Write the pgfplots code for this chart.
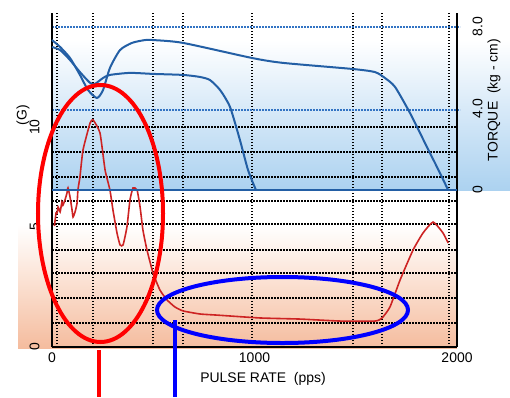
\documentclass[border=0pt]{standalone}
\usepackage{pgfplots}
\pgfplotsset{compat=1.18}
\usepackage{fontspec}
\setmainfont{Liberation Sans}
\definecolor{tblue}{RGB}{35,95,165}
\definecolor{vred}{RGB}{205,35,35}
\definecolor{bgblue}{RGB}{172,210,240}
\definecolor{bgbluemid}{RGB}{215,233,248}
\definecolor{bgorange}{RGB}{245,188,158}
\definecolor{bgorangemid}{RGB}{251,226,212}
\definecolor{gblue}{RGB}{50,115,195}
\begin{document}
\begin{tikzpicture}[x=1bp,y=1bp]
\useasboundingbox (0,0) rectangle (510,397);
% background bands
\fill[top color=white, bottom color=bgbluemid] (52,357) rectangle (510,287);
\fill[top color=bgbluemid, bottom color=bgblue] (52,287) rectangle (510,207);
\fill[top color=white, bottom color=bgorangemid] (18,172) rectangle (457,117);
\fill[top color=bgorangemid, bottom color=bgorange] (18,117) rectangle (457,49);
% grid
\foreach \px in {57,93,153,183,252,353,382,449}
  \draw[black, line width=1.3bp, dash pattern=on 1.5bp off 1.5bp] (\px,50) -- (\px,384);
\foreach \py in {127,152,177,201,224,250,273,298,323}
  \draw[black, line width=1.3bp, dash pattern=on 1.5bp off 1.5bp] (52,397-\py) -- (457,397-\py);
\foreach \py in {27,110}
  \draw[gblue, line width=1.3bp, dash pattern=on 1.5bp off 1.5bp] (52,397-\py) -- (460,397-\py);

% vibration axis (G)
\begin{axis}[at={(52bp,50bp)}, anchor=south west, scale only axis,
  width=405bp, height=334bp, xmin=0, xmax=2000, ymin=0, ymax=15.1818,
  axis x line*=bottom, axis y line*=left,
  axis line style={line width=1.3bp, -},
  xtick={0,1000,2000}, xticklabels={0,1000,2000},
  ytick={0,5.45,10}, yticklabels={0,5,10},
  tick style={draw=none},
  ticklabel style={font=\fontsize{14}{16}\selectfont},
  yticklabel style={xshift=-9bp, rotate=90, anchor=south},
  xticklabel style={yshift=-2bp},
  clip=false]
\addplot[vred, line width=1.6bp, smooth, tension=0.3] coordinates {
(12,5.5) (20,6.1) (25,6.09) (30,6.36) (40,6.14) (49,6.59) (54,6.45) (64,6.68)
(74,7.0) (79,7.23) (89,6.82) (99,6.23) (104,5.91) (114,6.14) (124,6.55)
(128,7.14) (138,7.73) (153,8.95) (188,10.18) (203,10.32) (237,9.73)
(262,8.05) (286,7.14) (301,6.23) (321,5.18) (336,4.64) (351,4.64)
(370,5.45) (385,6.68) (400,7.23) (420,7.14) (435,6.36) (449,5.32)
(469,4.41) (499,3.36) (533,2.59) (568,2.14) (607,1.82) (647,1.64)
(731,1.5) (815,1.45) (1027,1.32) (1225,1.27) (1422,1.18) (1595,1.18)
(1630,1.32) (1669,1.82) (1719,3.05) (1783,4.41) (1832,5.18) (1882,5.68)
(1931,5.18) (1956,4.73)};
\end{axis}

% torque axis
\begin{axis}[at={(52bp,50bp)}, anchor=south west, scale only axis,
  width=405bp, height=334bp, xmin=0, xmax=2000, ymin=-7.696, ymax=8.676,
  axis x line=none, axis y line*=right,
  axis line style={line width=1.3bp, -},
  ytick={0,4,8}, yticklabels={0,4.0,8.0},
  tick style={draw=none},
  ticklabel style={font=\fontsize{14}{16}\selectfont},
  yticklabel style={xshift=12bp, rotate=90, anchor=north},
  clip=false]
\addplot[tblue, line width=2bp] coordinates {(0,0) (2000,0)};
\addplot[tblue, line width=2bp, smooth, tension=0.4] coordinates {
(0,7.35) (40,7.01) (89,6.47) (138,5.64) (178,4.90) (222,4.51) (252,4.90)
(286,5.98) (336,6.86) (395,7.21) (459,7.35) (499,7.35) (647,7.21)
(988,6.47) (1141,6.23) (1486,5.93) (1595,5.78) (1644,5.49) (1694,5.05)
(1768,3.77) (1842,2.30) (1916,0.83) (1956,0)};
\addplot[tblue, line width=2bp, smooth, tension=0.4] coordinates {
(0,7.01) (40,6.86) (89,6.37) (138,5.78) (188,5.25) (212,5.20) (252,5.49)
(286,5.64) (385,5.74) (499,5.69) (647,5.64) (731,5.54) (780,5.39)
(830,4.90) (879,4.07) (928,2.45) (968,0.98) (1007,0)};
\end{axis}

% labels
\node[rotate=90, font=\fontsize{14}{16}\selectfont] at (23,282) {(G)};
\node[rotate=90, font=\fontsize{14}{16}\selectfont] at (494,297) {TORQUE\ \ (kg - cm)};
\node[font=\fontsize{14}{16}\selectfont] at (263,18) {PULSE RATE\ \ (pps)};

% annotations
\draw[red, line width=4bp] (100.5,183.5) ellipse [x radius=62.5bp, y radius=128.5bp];
\draw[blue, line width=4bp] (282.5,87) ellipse [x radius=125.5bp, y radius=33bp];
\draw[red, line width=3.3bp] (99,47) -- (99,0);
\draw[blue, line width=3.3bp] (175,77) -- (175,0);
\end{tikzpicture}
\end{document}
